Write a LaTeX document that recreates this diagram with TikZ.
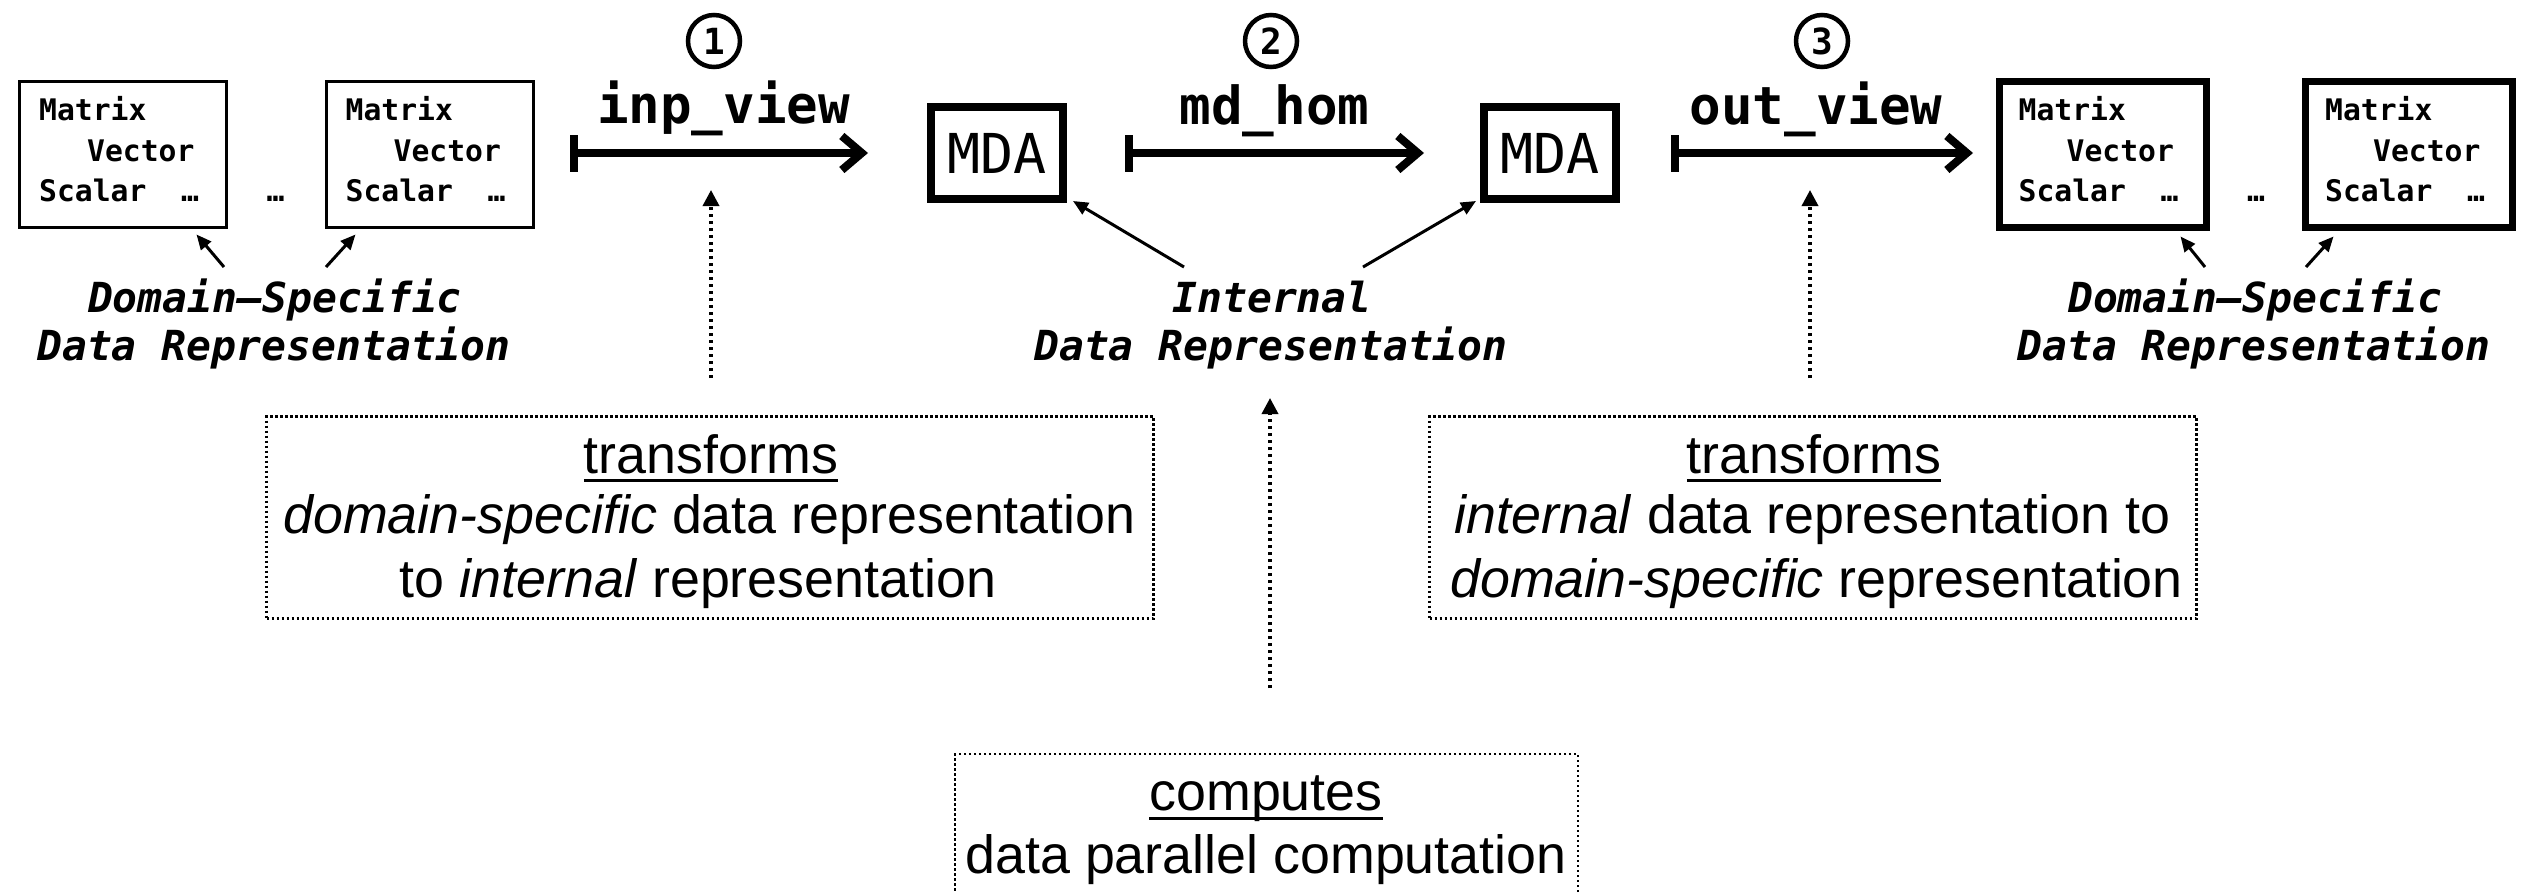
\documentclass[tikz,border=0pt]{standalone}
\usepackage{fontspec}
\setmainfont{Liberation Sans}
\newfontfamily\monof{DejaVu Sans Mono}
\usetikzlibrary{arrows.meta}
\newcommand\DSBox[3]{%
  \node[#3] (#1) at (#2,154) {};
  \node[boxtxt] (#1m) at ({#2-84},120) {Matrix};
  \node[boxtxt] (#1v) at ({#2-36},161) {Vector};
  \node[boxtxt] (#1s) at ({#2-84},201) {Scalar};
  \node[boxtxt] (#1e) at ({#2+58},201) {…};
}
\begin{document}
\begin{tikzpicture}[x=1pt,y=-1pt,
  dsbox/.style={draw, minimum width=207pt, minimum height=146pt, inner sep=0pt},
  thinbox/.style={dsbox, line width=3pt},
  thickbox/.style={dsbox, line width=7pt},
  boxtxt/.style={anchor=base west, inner sep=0pt, font=\monof\bfseries\fontsize{29.7}{36}\selectfont},
  mda/.style={draw, line width=8pt, minimum width=132pt, minimum height=92pt, inner sep=0pt, font=\monof\fontsize{55}{60}\selectfont},
  fnlabel/.style={anchor=base, inner sep=0pt, font=\monof\bfseries\fontsize{52.5}{60}\selectfont},
  steplabel/.style={circle, draw, line width=4.5pt, minimum size=52pt, inner sep=0pt, font=\monof\bfseries\fontsize{36}{36}\selectfont},
  replabel/.style={anchor=base, inner sep=0pt, font=\monof\bfseries\itshape\fontsize{41.4}{48}\selectfont},
  mainarrow/.style={line width=8pt, {Bar[width=37pt]}-{Straight Barb[length=20pt,width=34pt]}},
  ptr/.style={line width=3pt, -{Triangle[length=15pt,width=13pt]}},
  dotarrow/.style={line width=3.5pt, dash pattern=on 3.5pt off 3.5pt, -{Triangle[length=16pt,width=16pt]}},
  notebox/.style={draw, line width=2.5pt, dash pattern=on 2.5pt off 2.5pt, inner sep=0pt},
  notetxt/.style={anchor=base, inner sep=0pt, font=\fontsize{53.8}{62}\selectfont},
  uline/.style={line width=3pt},
]
\useasboundingbox (0,0) rectangle (2528,892);

% domain-specific boxes
\DSBox{L1}{123}{thinbox}
\DSBox{L2}{429.5}{thinbox}
\DSBox{R1}{2102.5}{thickbox}
\DSBox{R2}{2409}{thickbox}
\node[boxtxt, anchor=base] (Ldots) at (275.5,201) {…};
\node[boxtxt, anchor=base] (Rdots) at (2256,201) {…};

% MDA boxes
\node[mda] (M1) at (997,153) {MDA};
\node[mda] (M2) at (1550,153) {MDA};

% step circles and function labels
\node[steplabel] (c1) at (714,41) {1};
\node[steplabel] (c2) at (1271,41) {2};
\node[steplabel] (c3) at (1822,41) {3};
\node[fnlabel] (f1) at (723.5,123) {inp\_view};
\node[fnlabel] (f2) at (1274.5,124) {md\_hom};
\node[fnlabel] (f3) at (1816,124) {out\_view};

% main arrows
\coordinate (a1s) at (570,153); \coordinate (a1e) at (868,153);
\coordinate (a2s) at (1125,153); \coordinate (a2e) at (1424,153);
\coordinate (a3s) at (1671,153); \coordinate (a3e) at (1973,153);
\draw[mainarrow] (a1s) -- (a1e);
\draw[mainarrow] (a2s) -- (a2e);
\draw[mainarrow] (a3s) -- (a3e);

% representation labels
\node[replabel] (dl1) at (275,312) {Domain–Specific};
\node[replabel] (dl2) at (274,360) {Data Representation};
\node[replabel] (il1) at (1272,312) {Internal};
\node[replabel] (il2) at (1271,360) {Data Representation};
\node[replabel] (dr1) at (2255,312) {Domain–Specific};
\node[replabel] (dr2) at (2254,360) {Data Representation};

% pointers
\coordinate (p1) at (224,267); \coordinate (p2) at (326,267);
\coordinate (p3) at (1184,267); \coordinate (p4) at (1363,267);
\coordinate (p5) at (2205,267); \coordinate (p6) at (2306,267);
\draw[ptr] (p1) -- ([xshift=-31.5pt,yshift=-6pt]L1.south east);
\draw[ptr] (p2) -- ([xshift=31pt,yshift=-6pt]L2.south west);
\draw[ptr] (p3) -- ([xshift=6pt,yshift=2pt]M1.south east);
\draw[ptr] (p4) -- ([xshift=-4pt,yshift=2pt]M2.south west);
\draw[ptr] (p5) -- ([xshift=-29pt,yshift=-6pt]R1.south east);
\draw[ptr] (p6) -- ([xshift=31.5pt,yshift=-6pt]R2.south west);

% note boxes
\node[notebox, minimum width=887pt, minimum height=202pt] (T1) at (710,517.5) {};
\node[notetxt] (T1a) at (711,473) {transforms};
\node[notetxt] (T1b) at (709.5,533) {\textit{domain-specific} data representation};
\node[notetxt] (T1c) at (698,597) {to \textit{internal} representation};
\draw[uline] ([yshift=-7pt]T1a.base west) -- ([yshift=-7pt]T1a.base east);

\node[notebox, minimum width=767pt, minimum height=202pt] (T2) at (1813,517.5) {};
\node[notetxt] (T2a) at (1814,473) {transforms};
\node[notetxt] (T2b) at (1812.5,533) {\textit{internal} data representation to};
\node[notetxt] (T2c) at (1816.5,597) {\textit{domain-specific} representation};
\draw[uline] ([yshift=-7pt]T2a.base west) -- ([yshift=-7pt]T2a.base east);

\begin{scope}
\clip (0,0) rectangle (2528,892);
\node[notebox, minimum width=623pt, minimum height=190pt] (C) at (1266.5,849) {};
\end{scope}
\node[notetxt] (Ca) at (1266,810) {computes};
\node[notetxt] (Cb) at (1266,873) {data parallel computation};
\draw[uline] ([yshift=-8pt]Ca.base west) -- ([yshift=-8pt]Ca.base east);

% dotted arrows
\coordinate (d1s) at (711,378); \coordinate (d1e) at (711,190);
\coordinate (d2s) at (1270,688); \coordinate (d2e) at (1270,398);
\coordinate (d3s) at (1810,378); \coordinate (d3e) at (1810,190);
\draw[dotarrow] (d1s) -- (d1e);
\draw[dotarrow] (d2s) -- (d2e);
\draw[dotarrow] (d3s) -- (d3e);
\end{tikzpicture}
\end{document}
